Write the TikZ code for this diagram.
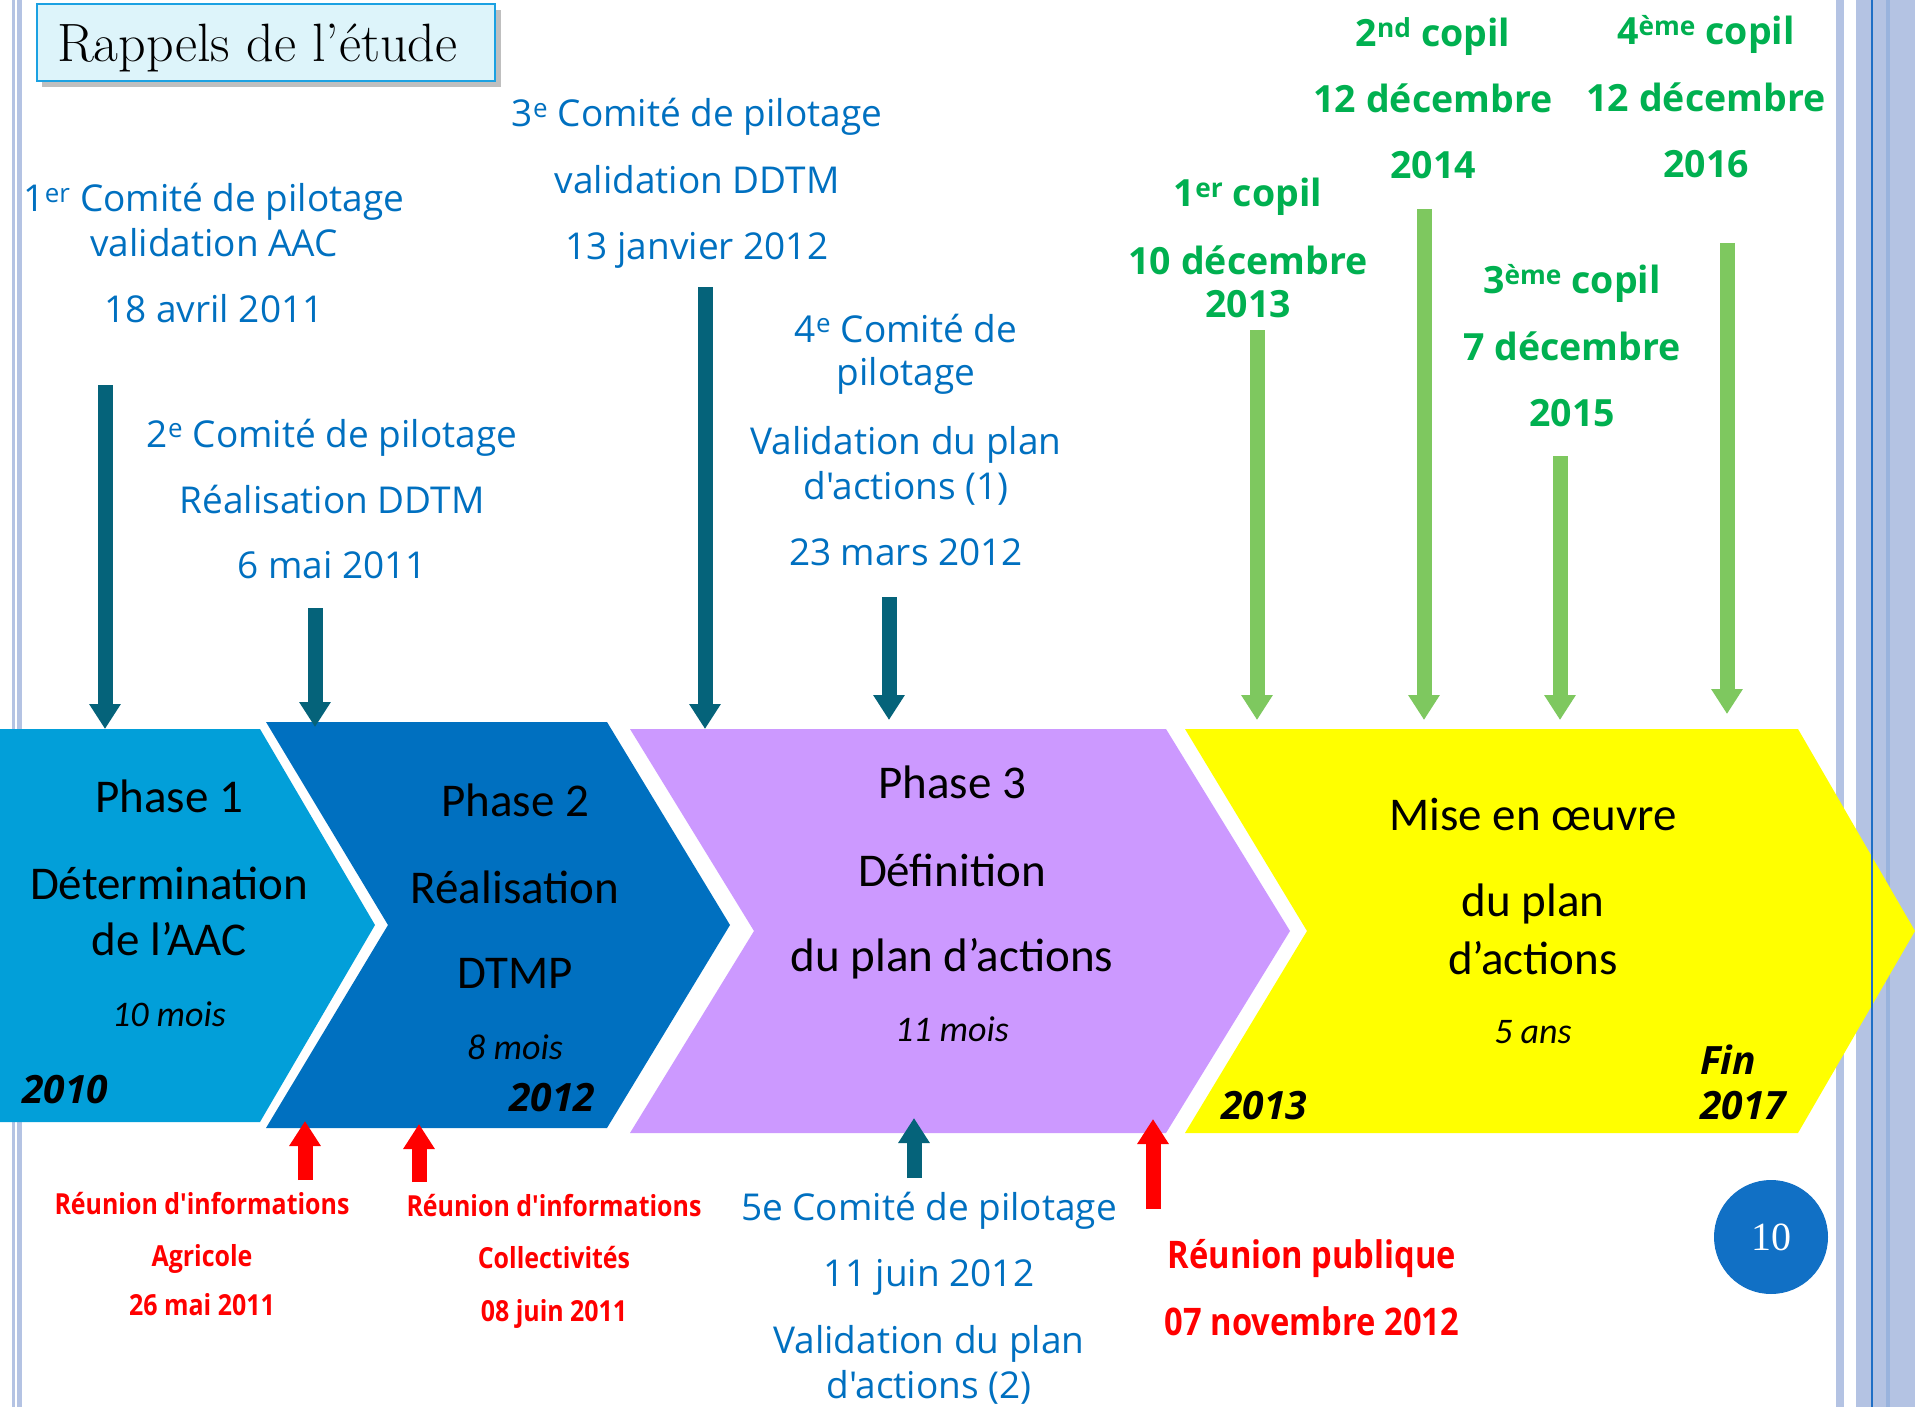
\documentclass[tikz,border=0pt]{standalone}
\usepackage{fontspec}
\usetikzlibrary{arrows.meta}
\newfontfamily\calfont{Carlito}
\newfontfamily\comic{Open Sans}
\newfontfamily\comicn[FakeStretch=0.86]{Open Sans}
\newfontfamily\timesf{Liberation Serif}
\definecolor{phaseA}{RGB}{2,159,217}
\definecolor{phaseB}{RGB}{0,112,192}
\definecolor{phaseC}{RGB}{204,153,255}
\definecolor{phaseD}{RGB}{255,255,0}
\definecolor{tealarr}{RGB}{5,99,122}
\definecolor{greenarr}{RGB}{126,200,95}
\definecolor{bluetxt}{RGB}{0,112,192}
\definecolor{greentxt}{RGB}{0,176,80}
\definecolor{redtxt}{RGB}{255,0,0}
\definecolor{stripe}{RGB}{180,195,227}
\definecolor{stripedark}{RGB}{153,179,221}
\definecolor{stripeline}{RGB}{31,111,197}
\definecolor{titlefill}{RGB}{221,244,250}
\definecolor{titleborder}{RGB}{27,161,226}
\definecolor{pagecirc}{RGB}{17,112,197}
\begin{document}
\begin{tikzpicture}[x=1pt,y=-1pt,
  btxt/.style={anchor=base,inner sep=0pt,text=bluetxt,font=\comic\fontsize{37}{44}\selectfont},
  gtxt/.style={anchor=base,inner sep=0pt,text=greentxt,font=\comic\bfseries\fontsize{37.5}{45}\selectfont},
  rtxt/.style={anchor=base,inner sep=0pt,text=redtxt,font=\comicn\bfseries\fontsize{29}{35}\selectfont},
  rbig/.style={anchor=base,inner sep=0pt,text=redtxt,font=\comicn\bfseries\fontsize{38}{45}\selectfont},
  phtxt/.style={anchor=base,inner sep=0pt,font=\calfont\fontsize{47}{56}\selectfont},
  phital/.style={anchor=base,inner sep=0pt,font=\calfont\itshape\fontsize{36}{43}\selectfont},
  yeartxt/.style={anchor=base west,inner sep=0pt,font=\comic\bfseries\itshape\fontsize{39}{46}\selectfont},
  tealdown/.style={color=tealarr,line width=15pt,-{Triangle[width=30pt,length=25pt]}},
  greendown/.style={color=greenarr,line width=15pt,-{Triangle[width=30pt,length=25pt]}},
  redup/.style={color=redtxt,line width=15pt,-{Triangle[width=30pt,length=25pt]}},
]
\useasboundingbox (0,0) rectangle (1915,1407);
\fill[white] (0,0) rectangle (1915,1407);
% side stripes
\fill[stripe] (12,0) rectangle (14.5,1407);
\fill[stripe] (16.5,0) rectangle (22,1407);
\fill[stripe] (1836,0) rectangle (1844,1407);
\fill[stripe] (1856,0) rectangle (1915,1407);
\fill[stripedark] (1886,0) rectangle (1890,1407);
% title
\fill[black,opacity=0.25] (42,10) rectangle (501,87);
\node[draw=titleborder,line width=2.5pt,fill=titlefill,minimum width=458pt,minimum height=77pt,inner sep=0pt] (title) at (266,42.5) {};
\node[anchor=base west,inner sep=0pt,font=\fontsize{54}{64}\selectfont] (titlet) at (57,62) {Rappels de l'étude};
% chevrons
\fill[phaseA] (0,729) -- (260,729) -- (375,925) -- (260,1122) -- (0,1122) -- cycle;
\fill[phaseB] (266,722) -- (607,722) -- (730,925) -- (607,1128) -- (266,1128) -- (388,925) -- cycle;
\fill[phaseC] (630,729) -- (1166,729) -- (1290,931) -- (1166,1133) -- (630,1133) -- (754,931) -- cycle;
\fill[phaseD] (1185,729) -- (1798,729) -- (1915,931) -- (1798,1133) -- (1185,1133) -- (1307,931) -- cycle;
\fill[stripeline] (1871,0) rectangle (1873,1407);
% phase texts
\node[phtxt] (p1a) at (169,812) {Phase 1};
\node[phtxt] (p1b) at (169,899) {Détermination};
\node[phtxt] (p1c) at (169,955) {de l’AAC};
\node[phital] (p1d) at (169,1026) {10 mois};
\node[yeartxt] (p1y) at (22,1103) {2010};
\node[phtxt] (p2a) at (515,816) {Phase 2};
\node[phtxt] (p2b) at (515,903) {Réalisation};
\node[phtxt] (p2c) at (515,988) {DTMP};
\node[phital] (p2d) at (515,1059) {8 mois};
\node[yeartxt] (p2y) at (509,1111) {2012};
\node[phtxt] (p3a) at (952,798) {Phase 3};
\node[phtxt] (p3b) at (952,886) {Définition};
\node[phtxt] (p3c) at (952,971) {du plan d’actions};
\node[phital] (p3d) at (952,1041) {11 mois};
\node[phtxt] (p4a) at (1533,830) {Mise en œuvre};
\node[phtxt] (p4b) at (1533,916) {du plan};
\node[phtxt] (p4c) at (1533,974) {d’actions};
\node[phital] (p4d) at (1533,1043) {5 ans};
\node[yeartxt] (p4y) at (1221,1119) {2013};
\node[yeartxt] (p4f) at (1700,1074) {Fin};
\node[yeartxt] (p4z) at (1700,1119) {2017};
% blue texts
\node[btxt] (a1a) at (214,212) {1\textsuperscript{er} Comité de pilotage};
\node[btxt] (a1b) at (214,257) {validation AAC};
\node[btxt] (a1c) at (214,323) {18 avril 2011};
\node[btxt] (a2a) at (332,447) {2\textsuperscript{e} Comité de pilotage};
\node[btxt] (a2b) at (332,513) {Réalisation DDTM};
\node[btxt] (a2c) at (332,578) {6 mai 2011};
\node[btxt] (a3a) at (697,127) {3\textsuperscript{e} Comité de pilotage};
\node[btxt] (a3b) at (697,194) {validation DDTM};
\node[btxt] (a3c) at (697,260) {13 janvier 2012};
\node[btxt] (a4a) at (906,342) {4\textsuperscript{e} Comité de};
\node[btxt] (a4b) at (906,385) {pilotage};
\node[btxt] (a4c) at (906,454) {Validation du plan};
\node[btxt] (a4d) at (906,499) {d'actions (1)};
\node[btxt] (a4e) at (906,565) {23 mars 2012};
\node[btxt] (a5a) at (929,1220) {5e Comité de pilotage};
\node[btxt] (a5b) at (929,1286) {11 juin 2012};
\node[btxt] (a5c) at (929,1353) {Validation du plan};
\node[btxt] (a5d) at (929,1398) {d'actions (2)};
% red texts
\node[rtxt] (r1a) at (202,1214) {Réunion d'informations};
\node[rtxt] (r1b) at (202,1266) {Agricole};
\node[rtxt] (r1c) at (202,1315) {26 mai 2011};
\node[rtxt] (r2a) at (554,1216) {Réunion d'informations};
\node[rtxt] (r2b) at (554,1268) {Collectivités};
\node[rtxt] (r2c) at (554,1321) {08 juin 2011};
\node[rbig] (r3a) at (1312,1268) {Réunion publique};
\node[rbig] (r3b) at (1312,1335) {07 novembre 2012};
% green texts
\node[gtxt] (g1a) at (1248,207) {1\textsuperscript{er} copil};
\node[gtxt] (g1b) at (1248,274) {10 décembre};
\node[gtxt] (g1c) at (1248,317) {2013};
\node[gtxt] (g2a) at (1433,47) {2\textsuperscript{nd} copil};
\node[gtxt] (g2b) at (1433,113) {12 décembre};
\node[gtxt] (g2c) at (1433,179) {2014};
\node[gtxt] (g3a) at (1572,294) {3\textsuperscript{ème} copil};
\node[gtxt] (g3b) at (1572,360) {7 décembre};
\node[gtxt] (g3c) at (1572,426) {2015};
\node[gtxt] (g4a) at (1706,45) {4\textsuperscript{ème} copil};
\node[gtxt] (g4b) at (1706,112) {12 décembre};
\node[gtxt] (g4c) at (1706,178) {2016};
% arrow end points
\coordinate (t1s) at (105,385); \coordinate (t1e) at (105,729);
\coordinate (t2s) at (315,608); \coordinate (t2e) at (315,727);
\coordinate (t3s) at (705,287); \coordinate (t3e) at (705,729);
\coordinate (t4s) at (889,597); \coordinate (t4e) at (889,720);
\coordinate (t5s) at (914,1178); \coordinate (t5e) at (914,1118);
\coordinate (r1s) at (305,1180); \coordinate (r1e) at (305,1121);
\coordinate (r2s) at (419,1182); \coordinate (r2e) at (419,1124);
\coordinate (r3s) at (1153,1209); \coordinate (r3e) at (1153,1119);
\coordinate (gr1s) at (1257,330); \coordinate (gr1e) at (1257,720);
\coordinate (gr2s) at (1424,209); \coordinate (gr2e) at (1424,720);
\coordinate (gr3s) at (1560,456); \coordinate (gr3e) at (1560,720);
\coordinate (gr4s) at (1727,243); \coordinate (gr4e) at (1727,714);
\draw[tealdown] (t1s) -- (t1e);
\draw[tealdown] (t2s) -- (t2e);
\draw[tealdown] (t3s) -- (t3e);
\draw[tealdown] (t4s) -- (t4e);
\draw[tealdown] (t5s) -- (t5e);
\draw[redup] (r1s) -- (r1e);
\draw[redup] (r2s) -- (r2e);
\draw[redup] (r3s) -- (r3e);
\draw[greendown] (gr1s) -- (gr1e);
\draw[greendown] (gr2s) -- (gr2e);
\draw[greendown] (gr3s) -- (gr3e);
\draw[greendown] (gr4s) -- (gr4e);
% page number
\node[circle,fill=pagecirc,minimum size=114pt,inner sep=0pt,text=white,font=\timesf\fontsize{40}{48}\selectfont] (page) at (1771,1237) {10};
\end{tikzpicture}
\end{document}
